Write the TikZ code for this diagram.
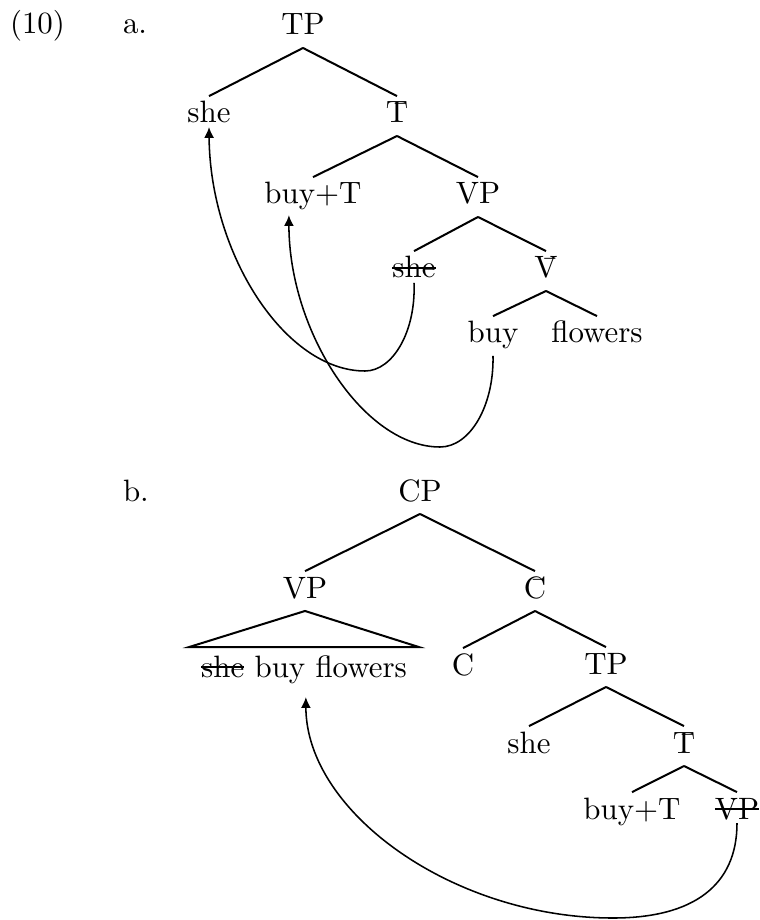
\documentclass[tikz,border=0pt]{standalone}
\usetikzlibrary{arrows.meta}
\newcommand\strk[1]{\setbox0=\hbox{#1}\rlap{\rule[3pt]{\wd0}{0.55pt}}\box0\relax}
\begin{document}
\begin{tikzpicture}[x=0.3236pt,y=-0.3236pt,
  lab/.style={anchor=base,inner sep=0pt,outer sep=0pt,text height=8.7pt,text depth=4.2pt},
  branch/.style={line width=0.65pt},
  move/.style={line width=0.5pt,-{Latex[length=3.5pt,width=3.2pt]}}]
\useasboundingbox (0,0) rectangle (759,920);
% (10) a.
\node[lab,anchor=base west] (ex) at (10,34) {(10)};
\node[lab,anchor=base west] (la) at (123,34) {a.};
\node[lab] (TPa) at (303,35) {TP};
\node[lab] (sheA) at (209,123) {she};
\node[lab] (Tba) at (397,123) {\=T};
\node[lab] (buyTa) at (313,204) {buy+T};
\node[lab] (VPa) at (478,204) {VP};
\node[lab] (sheA2) at (414,278) {\strk{she}};
\node[lab] (Vba) at (546,278) {\=V};
\node[lab] (buyA) at (493,343) {buy};
\node[lab] (flA) at (597,343) {flowers};
\draw[branch] (TPa.south) -- (sheA.north);
\draw[branch] (TPa.south) -- (Tba.north);
\draw[branch] (Tba.south) -- (buyTa.north);
\draw[branch] (Tba.south) -- (VPa.north);
\draw[branch] (VPa.south) -- (sheA2.north);
\draw[branch] (VPa.south) -- (Vba.north);
\draw[branch] (Vba.south) -- (buyA.north);
\draw[branch] (Vba.south) -- (flA.north);
\draw[move] ([yshift=-1.6pt]sheA2.base) .. controls (416,331) and (393,371) .. (365,371)
   .. controls (285,371) and (210,254) .. ([yshift=-1.3pt]sheA.base);
\draw[move] (buyA.south) .. controls (494,406) and (470,447) .. (440,447)
   .. controls (364,447) and (289,332) .. ([xshift=-7.8pt,yshift=-3.6pt]buyTa.base);
% b.
\node[lab,anchor=base west] (lb) at (123,501) {b.};
\node[lab] (CP) at (420,501) {CP};
\node[lab] (VPb) at (305,598) {VP};
\node[lab] (Cbb) at (535,598) {\=C};
\node[lab] (sbf) at (304,677) {\strk{she} buy flowers};
\node[lab] (Cc) at (463,675) {C};
\node[lab] (TPb) at (606,674) {TP};
\node[lab] (sheB) at (529,753) {she};
\node[lab] (Tbb) at (684,753) {\=T};
\node[lab] (buyTb) at (632,819) {buy+T};
\node[lab] (VPb2) at (737,819) {\strk{VP}};
\draw[branch] (CP.south) -- (VPb.north);
\draw[branch] (CP.south) -- (Cbb.north);
\draw[branch] ([xshift=-3.9pt,yshift=1pt]sbf.north west) -- (VPb.south) -- ([xshift=3.9pt,yshift=1pt]sbf.north east) -- cycle;
\draw[branch] (Cbb.south) -- (Cc.north);
\draw[branch] (Cbb.south) -- (TPb.north);
\draw[branch] (TPb.south) -- (sheB.north);
\draw[branch] (TPb.south) -- (Tbb.north);
\draw[branch] (Tbb.south) -- (buyTb.north);
\draw[branch] (Tbb.south) -- (VPb2.north);
\draw[move] ([yshift=-1.3pt]VPb2.base) .. controls (737,885) and (694,918) .. (613,918)
   .. controls (453,918) and (306,812) .. ([xshift=0.6pt,yshift=-6.5pt]sbf.base);
\end{tikzpicture}
\end{document}
